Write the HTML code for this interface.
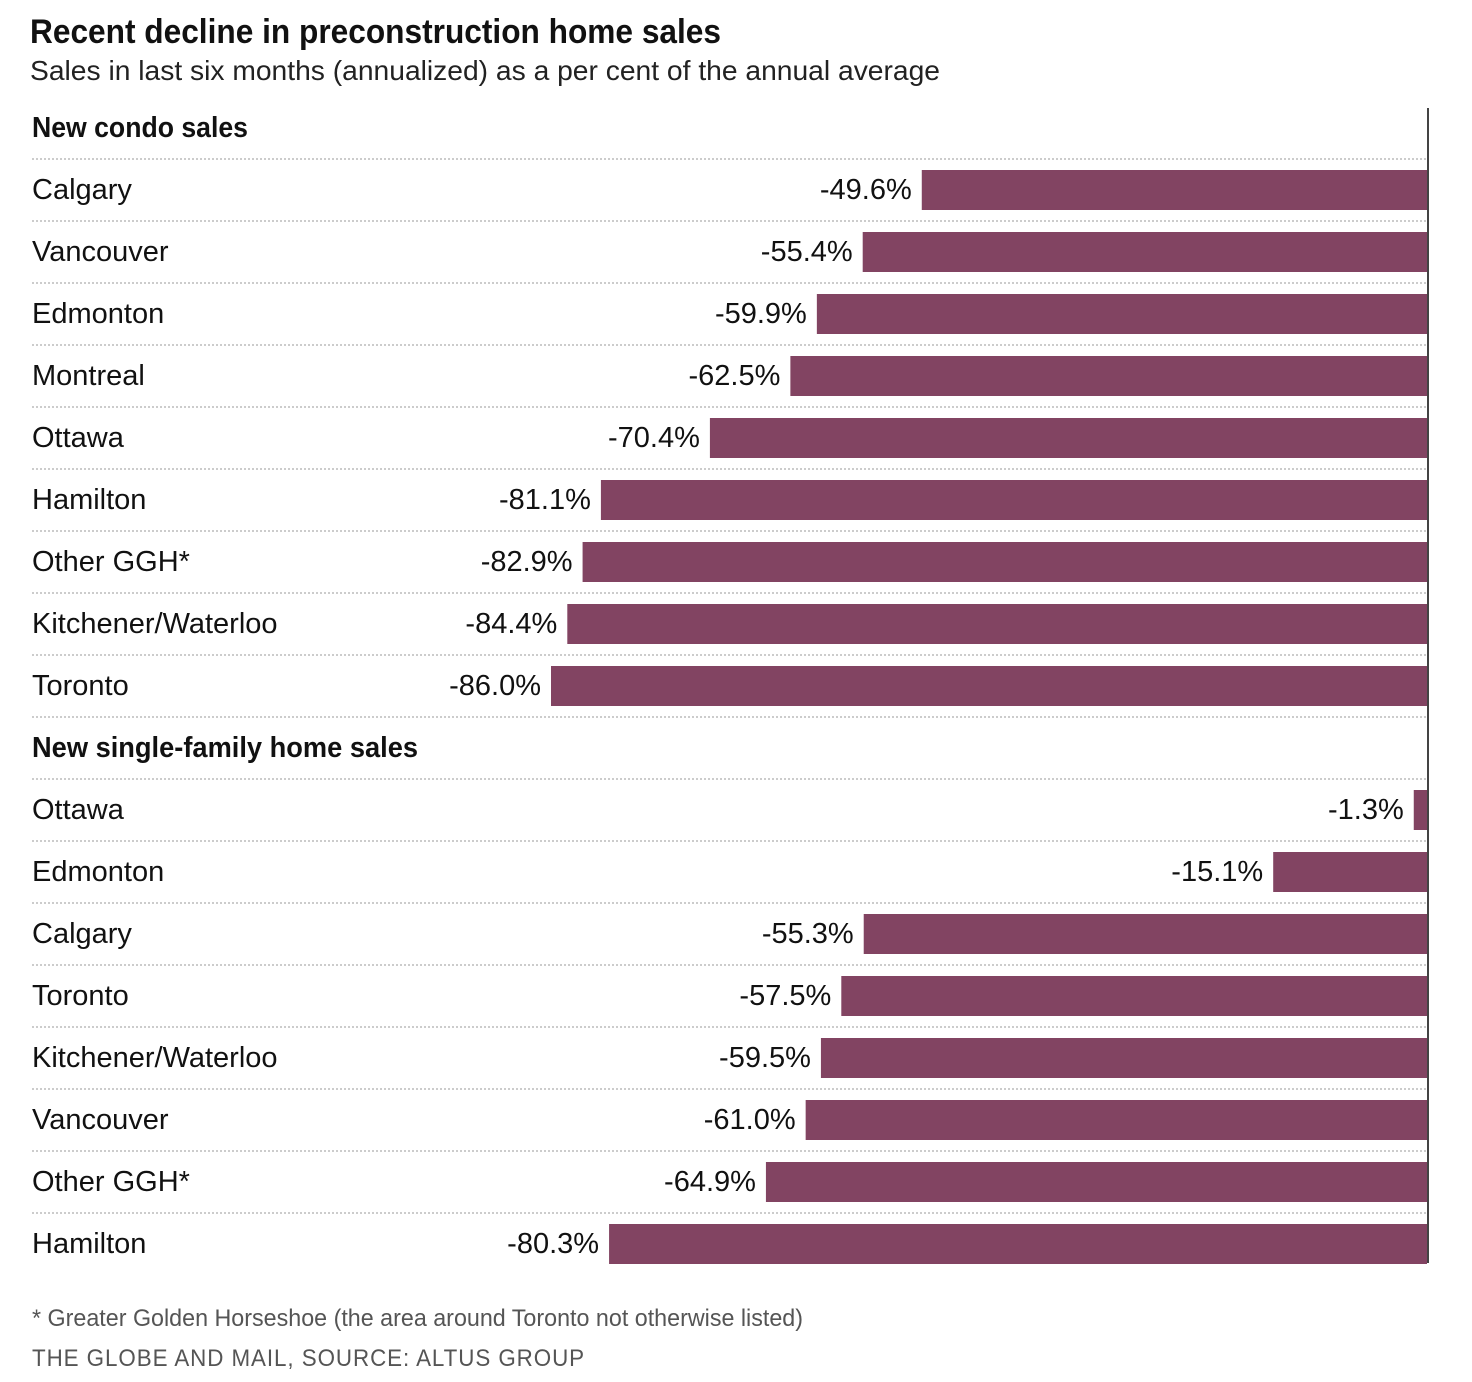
<!DOCTYPE html>
<html><head><meta charset="utf-8"><style>
body{margin:0;background:#fff;}
svg{display:block;font-family:"Liberation Sans Narrow","Liberation Sans",sans-serif;}
</style></head><body>
<svg id="chart" width="1472" height="1382" viewBox="0 0 1472 1382" xmlns="http://www.w3.org/2000/svg">
<text x="30" y="43" font-size="34" font-weight="bold" fill="#111" textLength="691" lengthAdjust="spacingAndGlyphs">Recent decline in preconstruction home sales</text>
<text x="30" y="80" font-size="28" fill="#222" textLength="910" lengthAdjust="spacingAndGlyphs">Sales in last six months (annualized) as a per cent of the annual average</text>
<g id="rows"></g>
<line x1="1428" y1="108" x2="1428" y2="1263" stroke="#444" stroke-width="2"/>
<text x="32" y="1326" font-size="24" fill="#555" textLength="771" lengthAdjust="spacingAndGlyphs">* Greater Golden Horseshoe (the area around Toronto not otherwise listed)</text>
<text x="32" y="1366" font-size="24" fill="#555" letter-spacing="1" textLength="553" lengthAdjust="spacingAndGlyphs">THE GLOBE AND MAIL, SOURCE: ALTUS GROUP</text>
</svg>
<script>
const condoCities=["Calgary","Vancouver","Edmonton","Montreal","Ottawa","Hamilton","Other GGH*","Kitchener/Waterloo","Toronto"];
const condoValues=[-49.6,-55.4,-59.9,-62.5,-70.4,-81.1,-82.9,-84.4,-86.0];
const singleCities=["Ottawa","Edmonton","Calgary","Toronto","Kitchener/Waterloo","Vancouver","Other GGH*","Hamilton"];
const singleValues=[-1.3,-15.1,-55.3,-57.5,-59.5,-61.0,-64.9,-80.3];

const NS="http://www.w3.org/2000/svg";
const g=document.getElementById('rows');
const x0=1427, pxPer=10.186, rowH=62;
function xs(v){return x0+v*pxPer;}
function mk(t,a){const e=document.createElementNS(NS,t);for(const k in a)e.setAttribute(k,a[k]);g.appendChild(e);return e;}
function sep(y){
  const l=mk('line',{x1:32,x2:1427,y1:y,y2:y,stroke:'#ccc','stroke-width':2,'stroke-dasharray':'2 2'});
  
  
}
function section(title,cities,vals,headY,key,tl){
  const h=mk('text',{x:32,y:headY+10,'font-size':29,'font-weight':'bold',fill:'#111',textLength:tl,lengthAdjust:'spacingAndGlyphs'});
  h.textContent=title;
  
  
  sep(headY+32);
  cities.forEach((c,i)=>{
    const cy=headY+rowH*(i+1);
    const lab=mk('text',{x:32,y:cy+10,'font-size':29,fill:'#111'});
    lab.textContent=c;
    
    
    const left=xs(vals[i]);
    const b=mk('rect',{x:left,y:cy-19,width:x0-left,height:40,fill:'#824462'});
    
    
    const v=mk('text',{x:left-10,y:cy+10,'font-size':29,fill:'#111','text-anchor':'end'});
    v.textContent=vals[i].toFixed(1)+'%';
    
    
    if(i<cities.length-1||key==='condo') sep(cy+32);
  });
}
section('New condo sales',condoCities,condoValues,127,'condo',216);
section('New single-family home sales',singleCities,singleValues,747,'single-family',386);
</script>
</body></html>
